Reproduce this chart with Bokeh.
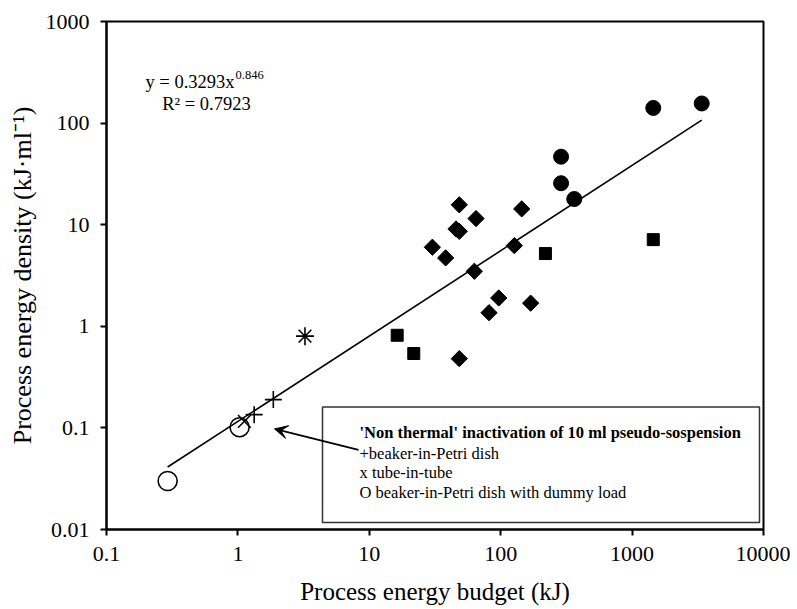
import numpy as np
from bokeh.plotting import figure
from bokeh.models import (FixedTicker, CustomJSTickFormatter, BoxAnnotation, Label,
                          Arrow, VeeHead)
from bokeh.embed import file_html
from bokeh.resources import INLINE

# ---------------- data ----------------
circle_x = [288, 288, 363, 1449, 3388]
circle_y = [46.7, 25.6, 17.9, 141, 156]

diamond_x = [48.4, 64.9, 144.5, 45.7, 48.4, 30.2, 38.1, 127, 63, 96.6, 81.5, 169, 48.4]
diamond_y = [15.7, 11.5, 14.3, 9.08, 8.6, 6.0, 4.71, 6.22, 3.48, 1.90, 1.36, 1.69, 0.48]

square_x = [16.3, 21.8, 219, 1449]
square_y = [0.816, 0.54, 5.2, 7.13]

plus_x = [1.33, 1.86]
plus_y = [0.135, 0.19]

xmark_x = [1.12]
xmark_y = [0.116]

aster_x = [3.24]
aster_y = [0.80]

open_x = [0.292, 1.03]
open_y = [0.030, 0.1016]

trend_x = [0.292, 3388]
trend_y = [0.0412, 107]

x_ticks = [0.1, 1, 10, 100, 1000, 10000]
x_tick_labels = ["0.1", "1", "10", "100", "1000", "10000"]
y_ticks = [0.01, 0.1, 1, 10, 100, 1000]
y_tick_labels = ["0.01", "0.1", "1", "10", "100", "1000"]

x_title = "Process energy budget (kJ)"
y_title = "Process energy density (kJ\u00b7ml\u207b\u00b9)"

FONT = "Liberation Serif"

# ---------------- figure ----------------
W, H = 790, 607
ML, MT = 106, 21
MR, MB = W - 763, H - 531
p = figure(width=W, height=H, x_axis_type="log", y_axis_type="log",
           x_range=(0.1, 10000), y_range=(0.01, 1000),
           output_backend="svg", toolbar_location=None,
           min_border_left=ML, min_border_right=MR, min_border_top=MT, min_border_bottom=MB)
p.background_fill_color = "white"
p.border_fill_color = "white"
p.outline_line_color = "black"
p.outline_line_width = 2
p.xgrid.visible = False
p.ygrid.visible = False

# pixel -> data helpers for annotations only
FR_L, FR_T = ML, MT
FR_W, FR_H = W - ML - MR, H - MT - MB
def px2x(px):
    return 10 ** (-1 + 5 * (px - FR_L) / FR_W)
def py2y(py):
    return 10 ** (3 - 5 * (py - FR_T) / FR_H)

code = """
let best = 0, bd = Infinity;
for (let i = 0; i < tvals.length; i++) {
  const d = Math.abs(Math.log10(tvals[i]) - Math.log10(tick));
  if (d < bd) { bd = d; best = i; }
}
return tlabels[best];
"""
p.xaxis.ticker = FixedTicker(ticks=x_ticks, minor_ticks=[])
p.yaxis.ticker = FixedTicker(ticks=y_ticks, minor_ticks=[])
p.xaxis.formatter = CustomJSTickFormatter(args=dict(tvals=x_ticks, tlabels=x_tick_labels), code=code)
p.yaxis.formatter = CustomJSTickFormatter(args=dict(tvals=y_ticks, tlabels=y_tick_labels), code=code)

for ax in (p.xaxis[0], p.yaxis[0]):
    ax.axis_line_width = 2
    ax.axis_line_color = "black"
    ax.major_tick_line_width = 2
    ax.major_tick_line_color = "black"
    ax.major_tick_out = 6
    ax.major_tick_in = 0
    ax.minor_tick_line_color = None
    ax.major_label_text_font = FONT
    ax.major_label_text_font_size = "22px"
    ax.major_label_text_color = "black"
    ax.axis_label_text_font = FONT
    ax.axis_label_text_font_style = "normal"
    ax.axis_label_text_color = "black"

p.xaxis.axis_label = x_title
p.yaxis.axis_label = y_title
p.xaxis.axis_label_text_font_size = "25px"
p.yaxis.axis_label_text_font_size = "26px"
p.xaxis.major_label_standoff = 11
p.yaxis.major_label_standoff = 11
p.xaxis.axis_label_standoff = 14
p.yaxis.axis_label_standoff = 6

# ---------------- trend line ----------------
p.line(trend_x, trend_y, line_color="black", line_width=1.6)

# ---------------- markers ----------------
p.scatter(diamond_x, diamond_y, marker="square", size=11.5, angle=np.pi / 4,
          fill_color="black", line_color="black")
p.scatter(square_x, square_y, marker="square", size=12, fill_color="black", line_color="black")
p.scatter(circle_x, circle_y, marker="circle", size=15, fill_color="black", line_color="black")
p.scatter(open_x, open_y, marker="circle", size=19, fill_color=None, line_color="black", line_width=1.6)
p.scatter(plus_x, plus_y, marker="cross", size=17, line_color="black", line_width=1.6)
p.scatter(xmark_x, xmark_y, marker="x", size=18, line_color="black", line_width=1.6)
p.scatter(aster_x, aster_y, marker="asterisk", size=18, line_color="black", line_width=1.6)

# ---------------- equation ----------------
p.add_layout(Label(x=px2x(234), y=py2y(82), text="y = 0.3293x", text_align="right",
                   text_baseline="alphabetic", text_font=FONT, text_font_size="18.5px",
                   text_color="black"))
p.add_layout(Label(x=px2x(235), y=py2y(75), text="0.846", text_align="left",
                   text_baseline="alphabetic", text_font=FONT, text_font_size="12.5px",
                   text_color="black"))
p.add_layout(Label(x=px2x(206), y=py2y(104), text="R\u00b2 = 0.7923", text_align="center",
                   text_baseline="alphabetic", text_font=FONT, text_font_size="18.5px",
                   text_color="black"))

# ---------------- legend box ----------------
p.add_layout(BoxAnnotation(left=px2x(322), right=px2x(759), top=py2y(408), bottom=py2y(524),
                           fill_color="white", fill_alpha=1.0, line_color="#333333",
                           line_width=1.5, line_alpha=1.0))
legend_lines = ["'Non thermal' inactivation of 10 ml pseudo-sospension",
                "+beaker-in-Petri dish",
                "x tube-in-tube",
                "O beaker-in-Petri dish with dummy load"]
legend_base = [434, 455, 474, 494]
for i, (t, b) in enumerate(zip(legend_lines, legend_base)):
    p.add_layout(Label(x=px2x(359), y=py2y(b), text=t, text_align="left",
                       text_baseline="alphabetic", text_font=FONT, text_font_size="16.5px",
                       text_font_style="bold" if i == 0 else "normal", text_color="black"))

p.add_layout(Arrow(x_start=px2x(358), y_start=py2y(451), x_end=px2x(274), y_end=py2y(430),
                   line_color="black", line_width=1.8,
                   end=VeeHead(size=13, fill_color="black", line_color="black", line_width=1)))

open("out.html", "w").write(file_html(p, INLINE))
